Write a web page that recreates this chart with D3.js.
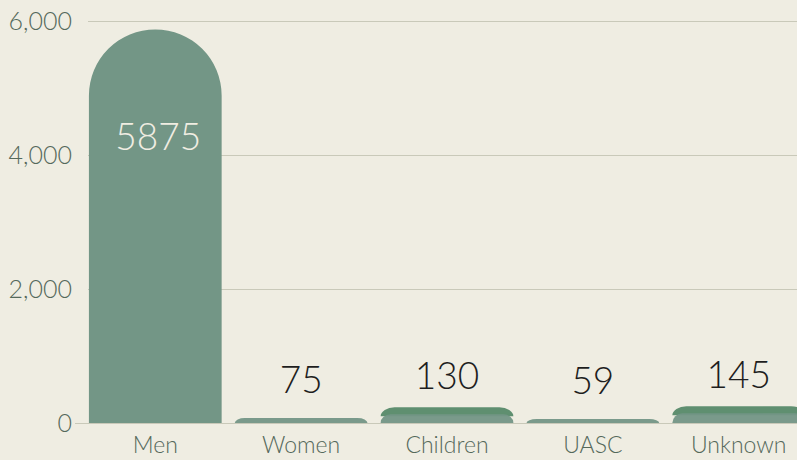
<!DOCTYPE html>
<html>
<head>
<meta charset="utf-8">
<script src="https://cdn.jsdelivr.net/npm/d3@7"></script>
<style>
  body { margin: 0; background: #efede2; overflow: hidden; }
  svg { display: block; }
  .tick-label { font-family: Lato, "Open Sans", sans-serif; font-weight: 300; fill: #55695b; }
</style>
</head>
<body>
<svg id="chart" width="797" height="460"></svg>
<script>
// chart data
var categories = ["Men", "Women", "Children", "UASC", "Unknown"];
var counts = [5875, 75, 130, 59, 145];
var yTicks = [0, 2000, 4000, 6000];

var BAR_COLOR = "#739686";
var CAP_COLOR = "#5f8f70";

var svg = d3.select("#chart");

var x = d3.scaleBand()
    .domain(categories)
    .range([86, 808])
    .paddingInner(0.09)
    .paddingOuter(0.02);

var y = d3.scaleLinear()
    .domain([0, 6000])
    .range([423, 21]);

// gridlines
svg.append("g")
  .selectAll("line")
  .data(yTicks)
  .enter().append("line")
    .attr("x1", function(d) { return d === 0 ? 75 : 88; })
    .attr("x2", 797)
    .attr("y1", function(d) { return y(d) + 0.5; })
    .attr("y2", function(d) { return y(d) + 0.5; })
    .style("stroke", "#c9c9b9")
    .style("stroke-width", 1);

// y axis labels
var yAxis = d3.axisLeft(y)
    .tickValues(yTicks)
    .tickSize(0)
    .tickPadding(0)
    .tickFormat(d3.format(","));

var yg = svg.append("g")
    .attr("transform", "translate(72,0)")
    .call(yAxis);
yg.select(".domain").remove();
yg.selectAll("text")
    .attr("class", "tick-label")
    .style("font-size", "25px")
    .attr("dy", "0.35em");

// x axis labels
var xAxis = d3.axisBottom(x).tickSize(0).tickPadding(0);
var xg = svg.append("g")
    .attr("transform", "translate(0,453)")
    .call(xAxis);
xg.select(".domain").remove();
xg.selectAll("text")
    .attr("class", "tick-label")
    .style("font-size", "23px")
    .attr("dy", "0");

// bar shape: rounded top corners
function barPath(x0, w, top, bottom, r) {
  r = Math.min(r, w / 2);
  var h = bottom - top;
  var ry = Math.min(r, h);
  return "M" + x0 + "," + bottom +
    "L" + x0 + "," + (top + ry) +
    "A" + r + "," + ry + " 0 0 1 " + (x0 + r) + "," + top +
    "L" + (x0 + w - r) + "," + top +
    "A" + r + "," + ry + " 0 0 1 " + (x0 + w) + "," + (top + ry) +
    "L" + (x0 + w) + "," + bottom + "Z";
}

var data = categories.map(function(c, i) { return { cat: c, value: counts[i] }; });

var bars = svg.append("g").selectAll("g")
  .data(data)
  .enter().append("g");

// darker rounded cap on the short bars
bars.filter(function(d) { return d.value < 1000 && d.value > 80; })
  .append("path")
    .attr("d", function(d) {
      return barPath(x(d.cat), x.bandwidth(), y(d.value) - 7, y(d.value) + 2, 14);
    })
    .style("fill", CAP_COLOR);

bars.append("path")
    .attr("d", function(d) {
      var top = y(d.value);
      var r = d.value > 1000 ? x.bandwidth() / 2 : 10;
      return barPath(x(d.cat), x.bandwidth(), top, y(0), r);
    })
    .style("fill", BAR_COLOR)
    .style("opacity", function(d) { return d.value > 1000 ? 1 : 0.95; });

// value labels
bars.append("text")
    .attr("x", function(d) { return x(d.cat) + x.bandwidth() / 2 + (d.value > 1000 ? 3 : 0); })
    .attr("y", function(d) { return d.value > 1000 ? 150 : y(d.value) - 25; })
    .attr("text-anchor", "middle")
    .style("font-family", "Lato, 'Open Sans', sans-serif")
    .style("font-weight", 300)
    .style("font-size", "37px")
    .style("fill", function(d) { return d.value > 1000 ? "#f0ede2" : "#1e1e1e"; })
    .text(function(d) { return d.value; });
</script>
</body>
</html>
